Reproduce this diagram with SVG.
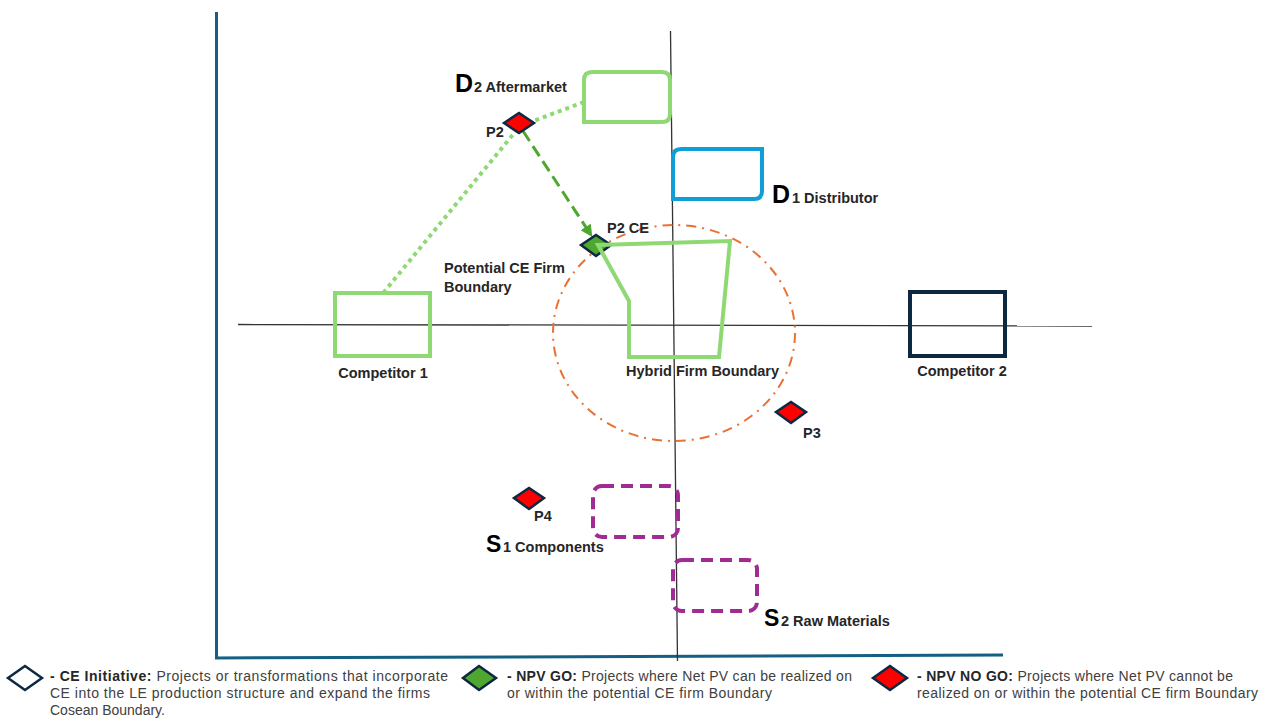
<svg xmlns="http://www.w3.org/2000/svg" width="1268" height="722" viewBox="0 0 1268 722">
<defs>
<style>
.lbl{font-family:"Liberation Sans",Arial,sans-serif;font-weight:bold;font-size:14.5px;fill:#262626}
.big{font-family:"Liberation Sans",Arial,sans-serif;font-weight:bold;fill:#000}
.leg{font-family:"Liberation Sans",Arial,sans-serif;font-size:14px;fill:#404040}
.legb{font-weight:bold;fill:#262626}
.dia{stroke:#0E2841;stroke-width:2.5;stroke-linejoin:miter}
.lg{fill:none;stroke:#8ED973;stroke-width:4}
.pur{fill:none;stroke:#A02B93;stroke-width:4;stroke-dasharray:12 7}
</style>
<marker id="arr" viewBox="0 0 10 10" refX="8" refY="5" markerWidth="4" markerHeight="4" orient="auto-start-reverse">
<path d="M0,0 L10,5 L0,10 z" fill="#4EA72E"/>
</marker>
</defs>
<rect width="1268" height="722" fill="#fff"/>

<g id="axes">
<line x1="216.5" y1="12" x2="216.5" y2="658" stroke="#156082" stroke-width="3"/>
<line x1="215" y1="658" x2="1003" y2="655" stroke="#156082" stroke-width="3"/>
<line x1="670.5" y1="31" x2="677.5" y2="661" stroke="#333" stroke-width="1.3"/>
<line x1="238" y1="324.5" x2="1092" y2="326" stroke="#333" stroke-width="1.3"/>
</g>

<g id="potential-ce-boundary">
<ellipse cx="674" cy="333" rx="121" ry="108" fill="none" stroke="#E97132" stroke-width="2" stroke-dasharray="10 6 2 6"/>
<text class="lbl" x="444" y="273">Potential CE Firm</text>
<text class="lbl" x="444" y="292">Boundary</text>
</g>

<g id="connectors">
<polyline points="584,102 520,126 384,292" fill="none" stroke="#8ED973" stroke-width="4" stroke-dasharray="4 4"/>
<line x1="523" y1="131" x2="591" y2="235" stroke="#4EA72E" stroke-width="3" stroke-dasharray="12 6" marker-end="url(#arr)"/>
</g>

<g id="d2-aftermarket">
<path class="lg" d="M584,122 L584,80 Q584,72 592,72 L662,72 Q670,72 670,80 L670,114 Q670,122 662,122 Z"/>
<text class="big" x="455" y="92" font-size="25">D</text>
<text class="lbl" x="474" y="92">2 Aftermarket</text>
</g>

<g id="d1-distributor">
<path d="M673,199 L673,157 Q673,149 681,149 L762,149 L762,191 Q762,199 754,199 Z" fill="none" stroke="#0F9ED5" stroke-width="4"/>
<text class="big" x="772" y="203" font-size="25">D</text>
<text class="lbl" x="792" y="203">1 Distributor</text>
</g>

<g id="competitor-1">
<rect class="lg" x="335" y="293" width="95" height="63"/>
<text class="lbl" x="383" y="378" text-anchor="middle">Competitor 1</text>
</g>

<g id="competitor-2">
<rect x="910" y="292" width="95" height="64" fill="none" stroke="#0E2841" stroke-width="4"/>
<text class="lbl" x="962" y="376" text-anchor="middle">Competitor 2</text>
</g>

<g id="p2">
<polygon class="dia" points="504,123 519,113 534,123 519,133" fill="#FF0000"/>
<text class="lbl" x="486" y="137" font-size="13">P2</text>
</g>

<g id="p2-ce">
<polygon class="dia" points="581,245 596,235 611,245 596,256" fill="#4EA72E"/>
<text class="lbl" x="607" y="233" font-size="13">P2 CE</text>
</g>

<g id="hybrid-firm-boundary">
<polygon class="lg" points="598,245 730,241 719,357 629,357 629,301"/>
<text class="lbl" x="626" y="376">Hybrid Firm Boundary</text>
</g>

<g id="p3">
<polygon class="dia" points="776,412 791,402 806,412 791,423" fill="#FF0000"/>
<text class="lbl" x="803" y="438" font-size="13">P3</text>
</g>

<g id="p4">
<polygon class="dia" points="514,498 529,488 544,498 529,509" fill="#FF0000"/>
<text class="lbl" x="534" y="521" font-size="13">P4</text>
</g>

<g id="s1-components">
<rect class="pur" x="593" y="486" width="85" height="51" rx="9"/>
<text class="big" x="486" y="552" font-size="23">S</text>
<text class="lbl" x="503" y="552">1 Components</text>
</g>

<g id="s2-raw-materials">
<rect class="pur" x="673" y="560" width="84" height="51" rx="9"/>
<text class="big" x="764" y="626" font-size="23">S</text>
<text class="lbl" x="781" y="626">2 Raw Materials</text>
</g>

<g id="legend-ce-initiative">
<polygon points="8,678 25,666 42,678 25,690" fill="#fff" stroke="#0E2841" stroke-width="2.5"/>
<text class="leg" x="50" y="681" textLength="398"><tspan class="legb">- CE Initiative:</tspan> Projects or transformations that incorporate</text>
<text class="leg" x="50" y="698" textLength="380">CE into the LE production structure and expand the firms</text>
<text class="leg" x="50" y="715" font-size="13">Cosean Boundary.</text>
</g>

<g id="legend-npv-go">
<polygon points="463,678 479,666 496,678 479,690" fill="#4EA72E" stroke="#0E2841" stroke-width="2.5"/>
<text class="leg" x="507" y="681" textLength="345"><tspan class="legb">- NPV GO:</tspan> Projects where Net PV can be realized on</text>
<text class="leg" x="507" y="698" textLength="265">or within the potential CE firm Boundary</text>
</g>

<g id="legend-npv-no-go">
<polygon points="873,678 890,666 907,678 890,690" fill="#FF0000" stroke="#0E2841" stroke-width="2.5"/>
<text class="leg" x="917" y="681" textLength="316"><tspan class="legb">- NPV NO GO:</tspan> Projects where Net PV cannot be</text>
<text class="leg" x="917" y="698" textLength="341">realized on or within the potential CE firm Boundary</text>
</g>
</svg>
